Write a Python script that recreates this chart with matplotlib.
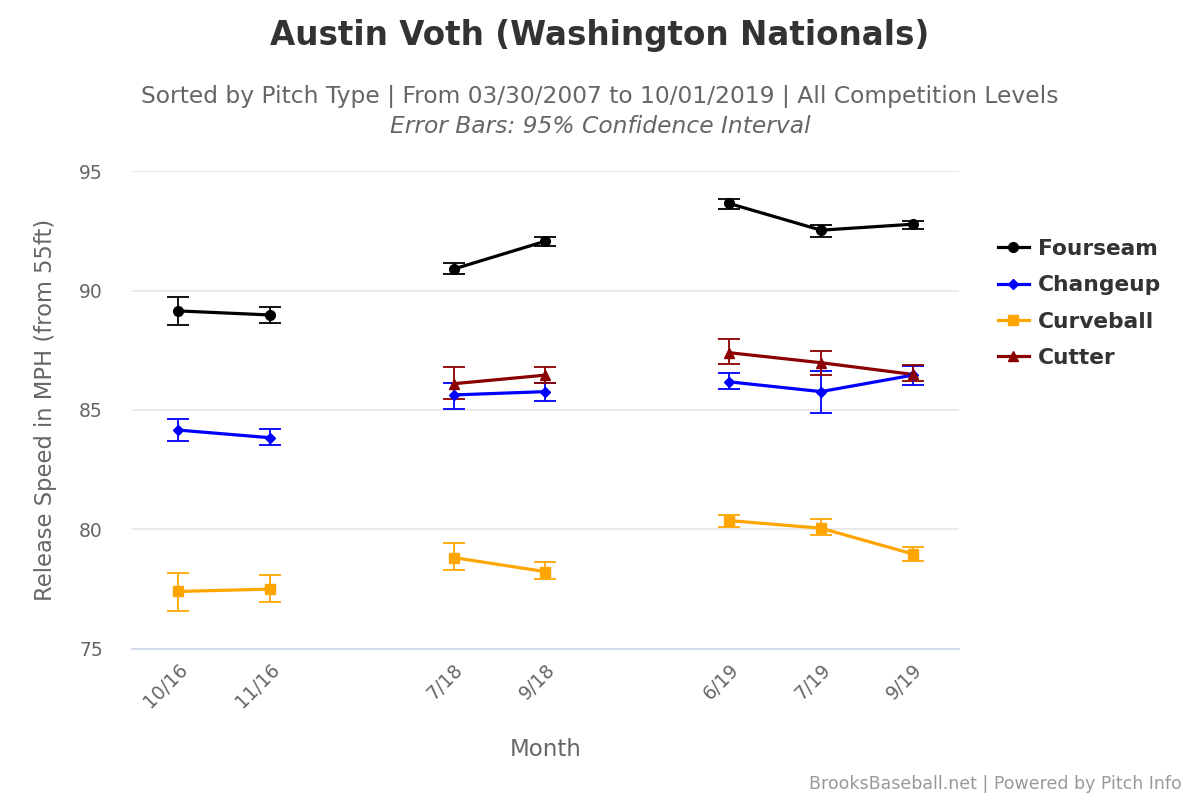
import matplotlib.pyplot as plt
from matplotlib.lines import Line2D

plt.rcParams['font.family'] = ['DejaVu Sans']

# months (gaps between seasons kept as empty slots)
months = ["10/16", "11/16", "7/18", "9/18", "6/19", "7/19", "9/19"]
slots = [0, 1, 3, 4, 6, 7, 8]

fourseam = [89.15, 88.98, 90.90, 92.07, 93.65, 92.53, 92.78]
fourseam_lo = [88.57, 88.65, 90.69, 91.85, 93.41, 92.25, 92.57]
fourseam_hi = [89.74, 89.32, 91.15, 92.24, 93.83, 92.74, 92.92]

changeup = [84.16, 83.84, 85.63, 85.77, 86.18, 85.77, 86.46]
changeup_lo = [83.72, 83.55, 85.06, 85.39, 85.88, 84.89, 86.06]
changeup_hi = [84.62, 84.21, 86.13, 86.15, 86.56, 86.64, 86.85]

curveball = [77.40, 77.50, 78.82, 78.23, 80.37, 80.05, 78.97]
curveball_lo = [76.60, 76.94, 78.28, 77.94, 80.12, 79.77, 78.68]
curveball_hi = [78.19, 78.11, 79.45, 78.63, 80.62, 80.45, 79.28]

# cutter only from 2018 on
cutter_slots = [3, 4, 6, 7, 8]
cutter = [86.10, 86.46, 87.40, 86.98, 86.49]
cutter_lo = [85.47, 86.14, 86.91, 86.48, 86.23]
cutter_hi = [86.81, 86.81, 87.98, 87.47, 86.90]

fig = plt.figure(figsize=(12, 8), dpi=100)
ax = fig.add_axes([0.11, 0.189, 0.689, 0.597])

series = [
    ("Fourseam", slots, fourseam, fourseam_lo, fourseam_hi, "black", "o", 7),
    ("Changeup", slots, changeup, changeup_lo, changeup_hi, "#0000ff", "D", 5),
    ("Curveball", slots, curveball, curveball_lo, curveball_hi, "#ffa500", "s", 6.5),
    ("Cutter", cutter_slots, cutter, cutter_lo, cutter_hi, "#8b0000", "^", 7.5),
]

handles = []
for name, xs, ys, lo, hi, col, mk, ms in series:
    err = [[y - l for y, l in zip(ys, lo)], [h - y for y, h in zip(ys, hi)]]
    ax.errorbar(xs, ys, yerr=err, fmt="none", ecolor=col, elinewidth=1.3,
                capsize=8, capthick=1.3, zorder=2)
    # draw lines segment by segment within each season
    seg_x, seg_y = [xs[0]], [ys[0]]
    for i in range(1, len(xs)):
        if xs[i] - xs[i - 1] > 1:
            ax.plot(seg_x, seg_y, color=col, lw=2.3, zorder=3)
            seg_x, seg_y = [], []
        seg_x.append(xs[i])
        seg_y.append(ys[i])
    ax.plot(seg_x, seg_y, color=col, lw=2.3, zorder=3)
    ax.plot(xs, ys, ls="none", marker=mk, ms=ms, color=col, zorder=4)
    handles.append(Line2D([], [], color=col, lw=2.3, marker=mk, ms=ms, label=name))

ax.set_xlim(-0.5, 8.5)
ax.set_ylim(75, 95)
ax.set_yticks([75, 80, 85, 90, 95])
ax.set_xticks(slots)
ax.set_xticklabels(months, rotation=45, ha="right", rotation_mode="anchor")
ax.grid(axis="y", color="#e6e6e6", lw=1.2)
ax.set_axisbelow(True)
for s in ["top", "right", "left"]:
    ax.spines[s].set_visible(False)
ax.spines["bottom"].set_color("#ccd6eb")
ax.spines["bottom"].set_linewidth(1.2)
ax.tick_params(axis="y", length=0, labelsize=13.5, labelcolor="#666666", pad=21)
ax.tick_params(axis="x", length=0, labelsize=13.5, labelcolor="#666666", pad=8)

ax.set_ylabel("Release Speed in MPH (from 55ft)", fontsize=16.3, color="#666666", labelpad=16)
ax.set_xlabel("Month", fontsize=16.5, color="#666666", labelpad=19)

fig.text(0.5, 0.955, "Austin Voth (Washington Nationals)", ha="center", va="center",
         fontsize=23.5, fontweight="bold", color="#333333")
fig.text(0.5, 0.879, "Sorted by Pitch Type | From 03/30/2007 to 10/01/2019 | All Competition Levels",
         ha="center", va="center", fontsize=16.8, color="#666666")
fig.text(0.5, 0.842, "Error Bars: 95% Confidence Interval", ha="center", va="center",
         fontsize=16.8, style="italic", color="#666666")
fig.text(0.985, 0.02, "BrooksBaseball.net | Powered by Pitch Info", ha="right", va="center",
         fontsize=12.5, color="#999999")

leg = fig.legend(handles=handles, loc="upper left", bbox_to_anchor=(0.815, 0.726),
                 frameon=False, fontsize=15.7, handlelength=1.45, labelspacing=0.75,
                 handletextpad=0.4)
for t in leg.get_texts():
    t.set_fontweight("bold")
    t.set_color("#333333")

fig.savefig("out.png", dpi=100)
